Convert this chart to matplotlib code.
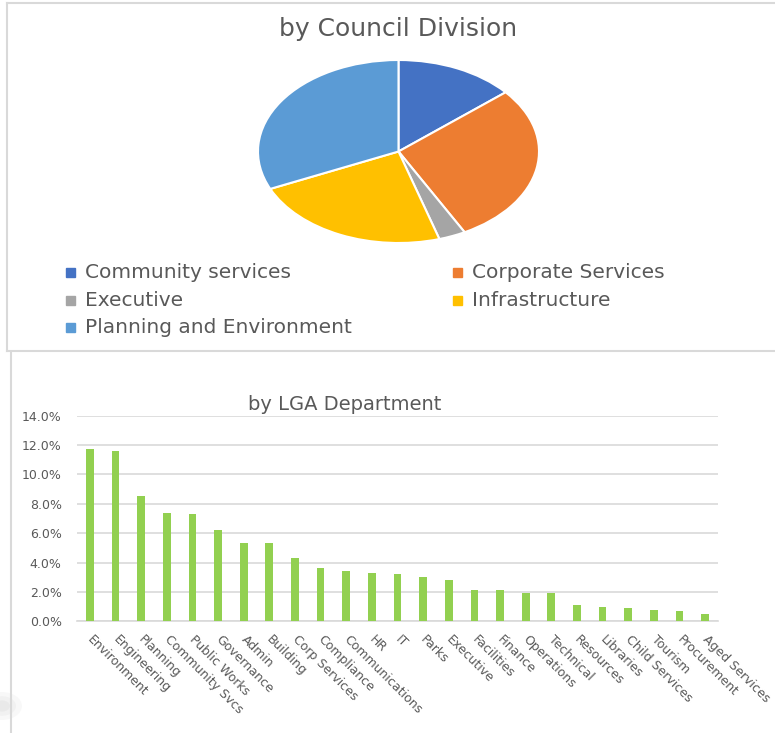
import matplotlib
matplotlib.use("Agg")
import matplotlib.pyplot as plt
from matplotlib.patches import Rectangle, Ellipse
from matplotlib.ticker import FuncFormatter
from matplotlib.transforms import ScaledTranslation

# Pie: share by council division (clockwise from 12 o'clock)
DIVISIONS = ["Community services", "Corporate Services", "Executive",
             "Infrastructure", "Planning and Environment"]
DIV_SHARE = [13.8, 28.4, 3.1, 23.0, 31.7]
DIV_COLORS = ["#4472C4", "#ED7D31", "#A5A5A5", "#FFC000", "#5B9BD5"]

# Bars: share by LGA department
DEPTS = ["Environment", "Engineering", "Planning", "Community Svcs",
         "Public Works", "Governance", "Admin", "Building", "Corp Services",
         "Compliance", "Communications", "HR", "IT", "Parks", "Executive",
         "Facilities", "Finance", "Operations", "Technical", "Resources",
         "Libraries", "Child Services", "Tourism", "Procurement",
         "Aged Services"]
DEPT_SHARE = [0.117, 0.116, 0.085, 0.074, 0.073, 0.062, 0.053, 0.053, 0.043,
              0.036, 0.034, 0.033, 0.032, 0.030, 0.028, 0.021, 0.021, 0.019,
              0.019, 0.011, 0.010, 0.009, 0.008, 0.007, 0.005]
Y_TICKS = [0.0, 0.02, 0.04, 0.06, 0.08, 0.10, 0.12, 0.14]

TXT = "#595959"
GRID = "#D9D9D9"
BAR = "#92D050"

W, H = 775, 733
fig = plt.figure(figsize=(W / 100, H / 100), dpi=100)


def box(x0, y0, x1, y1):
    # pixel box (top-left origin) -> figure fraction
    return [x0 / W, 1 - y1 / H, (x1 - x0) / W, (y1 - y0) / H]


# overlay in pixel coords for borders, titles and legend
ov = fig.add_axes([0, 0, 1, 1], zorder=-1)
ov.set_xlim(0, W)
ov.set_ylim(H, 0)
ov.axis("off")
ov.plot([7, 7], [3, 351], color=GRID, lw=1.5)
ov.plot([7, W], [3, 3], color=GRID, lw=1.5)
ov.plot([7, W], [351, 351], color=GRID, lw=1.5)
ov.plot([11, 11], [352, H], color=GRID, lw=1.5)
# faint shadow smudge at lower left of the screenshot
for w, a in [(40, 0.05), (28, 0.06), (16, 0.07)]:
    ov.add_patch(Ellipse((2, 706), w, w * 0.7, color="#888888", alpha=a,
                         lw=0))

ov.text(398, 29, "by Council Division", ha="center", va="center",
        fontsize=18, color=TXT)
ov.text(345, 405, "by LGA Department", ha="center", va="center",
        fontsize=14, color=TXT)

# pie (stretched horizontally like the screenshot)
pax = fig.add_axes(box(258, 60, 539, 243))
pax.pie(DIV_SHARE, colors=DIV_COLORS, startangle=90, counterclock=False,
        wedgeprops=dict(edgecolor="white", linewidth=1.5))
pax.set_aspect("auto")
pax.set_xlim(-1.0, 1.0)
pax.set_ylim(-1.0, 1.0)

# legend, filled row by row
for i, (name, col) in enumerate(zip(DIVISIONS, DIV_COLORS)):
    r, c = divmod(i, 2)
    mx = 66 if c == 0 else 453
    my = 272 + r * 27.5
    ov.add_patch(Rectangle((mx, my - 4), 9, 9, color=col))
    ov.text(mx + 19, my + 0.5, name, va="center", fontsize=14.5, color=TXT)

# bar chart
bax = fig.add_axes(box(77, 415.7, 718, 621.3))
x = range(len(DEPTS))
bax.bar(x, DEPT_SHARE, width=0.3, color=BAR, zorder=3)
bax.set_xlim(-0.5, len(DEPTS) - 0.5)
bax.set_ylim(0, 0.14)
bax.set_yticks(Y_TICKS)
bax.yaxis.set_major_formatter(FuncFormatter(lambda v, _: f"{v * 100:.1f}%"))
bax.grid(axis="y", color=GRID, lw=1.2, zorder=0)
for s in ("top", "right", "left"):
    bax.spines[s].set_visible(False)
bax.spines["bottom"].set_color(GRID)
bax.spines["bottom"].set_linewidth(1.2)
bax.tick_params(axis="y", length=0, labelsize=9, labelcolor=TXT, pad=11)
bax.tick_params(axis="x", length=0, labelsize=9, labelcolor=TXT, pad=6)
bax.set_xticks(list(x))
bax.set_xticklabels(DEPTS, rotation=-45, ha="left", rotation_mode="anchor")
shift = ScaledTranslation(0.04, -0.03, fig.dpi_scale_trans)
for lab in bax.get_xticklabels():
    lab.set_transform(lab.get_transform() + shift)

fig.savefig("out.png", dpi=100)
